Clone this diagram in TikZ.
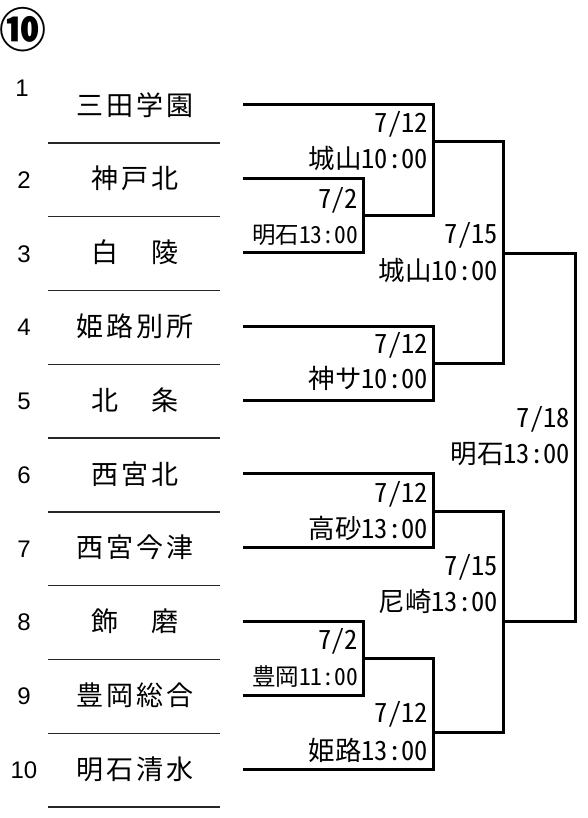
\documentclass[tikz,border=0pt]{standalone}
\usepackage{fontspec}
\setmainfont{Noto Sans CJK JP}
\newfontfamily\numfont{Liberation Sans}
\newfontfamily\datefont{Noto Sans CJK JP}[RawFeature=+hwid]
\newfontfamily\teamfont{Noto Sans CJK JP}[LetterSpace=12]

\tikzset{
    team/.style={inner sep=0pt, font=\teamfont\fontsize{27}{27}\selectfont},
    num/.style={inner sep=0pt, font=\numfont\fontsize{24}{24}\selectfont},
    date/.style={inner sep=0pt, anchor=base east, font=\datefont\fontsize{26.5}{26.5}\selectfont},
    smalldate/.style={date, font=\datefont\fontsize{23.5}{23.5}\selectfont},
    bline/.style={line width=3pt},
    sepline/.style={line width=1.3pt, black!85},
}

\begin{document}
\begin{tikzpicture}[x=1pt, y=-1pt]

        \useasboundingbox (0,0) rectangle (587,818);

        \node[inner sep=0pt, font=\bfseries\fontsize{47}{47}\selectfont] (title) at (23,30) {⑩};

        % teams
        \foreach \i/\name in {1/三田学園, 2/神戸北, 3/白　陵, 4/姫路別所, 5/北　条,
                              6/西宮北, 7/西宮今津, 8/飾　磨, 9/豊岡総合, 10/明石清水} {
            \pgfmathsetmacro\yy{105+(\i-1)*73.78}
            \node[team] (t\i) at (135,\yy) {\name};
            \draw[sepline] (48,\yy+38) -- (220,\yy+38);
            \coordinate (l\i) at (243,\yy);
        }
        \node[num] (n1) at (22,88) {1};
        \foreach \i in {2,...,10} {
            \pgfmathsetmacro\yy{180+(\i-2)*73.78}
            \node[num] (n\i) at (24,\yy) {\i};
        }

        % matches
        \coordinate (m23) at (363,216);
        \coordinate (m123) at (433,142);
        \coordinate (m45) at (433,363);
        \coordinate (m15) at (503,253);
        \coordinate (m67) at (433,511);
        \coordinate (m89) at (363,658);
        \coordinate (m810) at (433,732);
        \coordinate (m610) at (503,621);
        \coordinate (mfin) at (575,437);

        \draw[bline] (l2) -| (m23) |- (l3);
        \draw[bline] (l1) -| (m123) |- (m23);
        \draw[bline] (l4) -| (m45) |- (l5);
        \draw[bline] (m123) -| (m15) |- (m45);
        \draw[bline] (l6) -| (m67) |- (l7);
        \draw[bline] (l8) -| (m89) |- (l9);
        \draw[bline] (m89) -| (m810) |- (l10);
        \draw[bline] (m67) -| (m610) |- (m810);
        \draw[bline] (m15) -| (mfin) |- (m610);

        % dates and venues
        \node[date] (d123) at (428,133) {7/12};
        \node[date] (v123) at (428,169) {城山10:00};
        \node[date] (d23) at (358,208) {7/2};
        \node[smalldate] (v23) at (358,243) {明石13:00};
        \node[date] (d15) at (498,243) {7/15};
        \node[date] (v15) at (498,280) {城山10:00};
        \node[date] (d45) at (428,353) {7/12};
        \node[date] (v45) at (428,388) {神サ10:00};
        \node[date] (dfin) at (570,427) {7/18};
        \node[date] (vfin) at (570,463) {明石13:00};
        \node[date] (d67) at (428,502) {7/12};
        \node[date] (v67) at (428,538) {高砂13:00};
        \node[date] (d610) at (498,575) {7/15};
        \node[date] (v610) at (498,611) {尼崎13:00};
        \node[date] (d89) at (358,649) {7/2};
        \node[smalldate] (v89) at (358,685) {豊岡11:00};
        \node[date] (d810) at (428,722) {7/12};
        \node[date] (v810) at (428,760) {姫路13:00};

\end{tikzpicture}
\end{document}
